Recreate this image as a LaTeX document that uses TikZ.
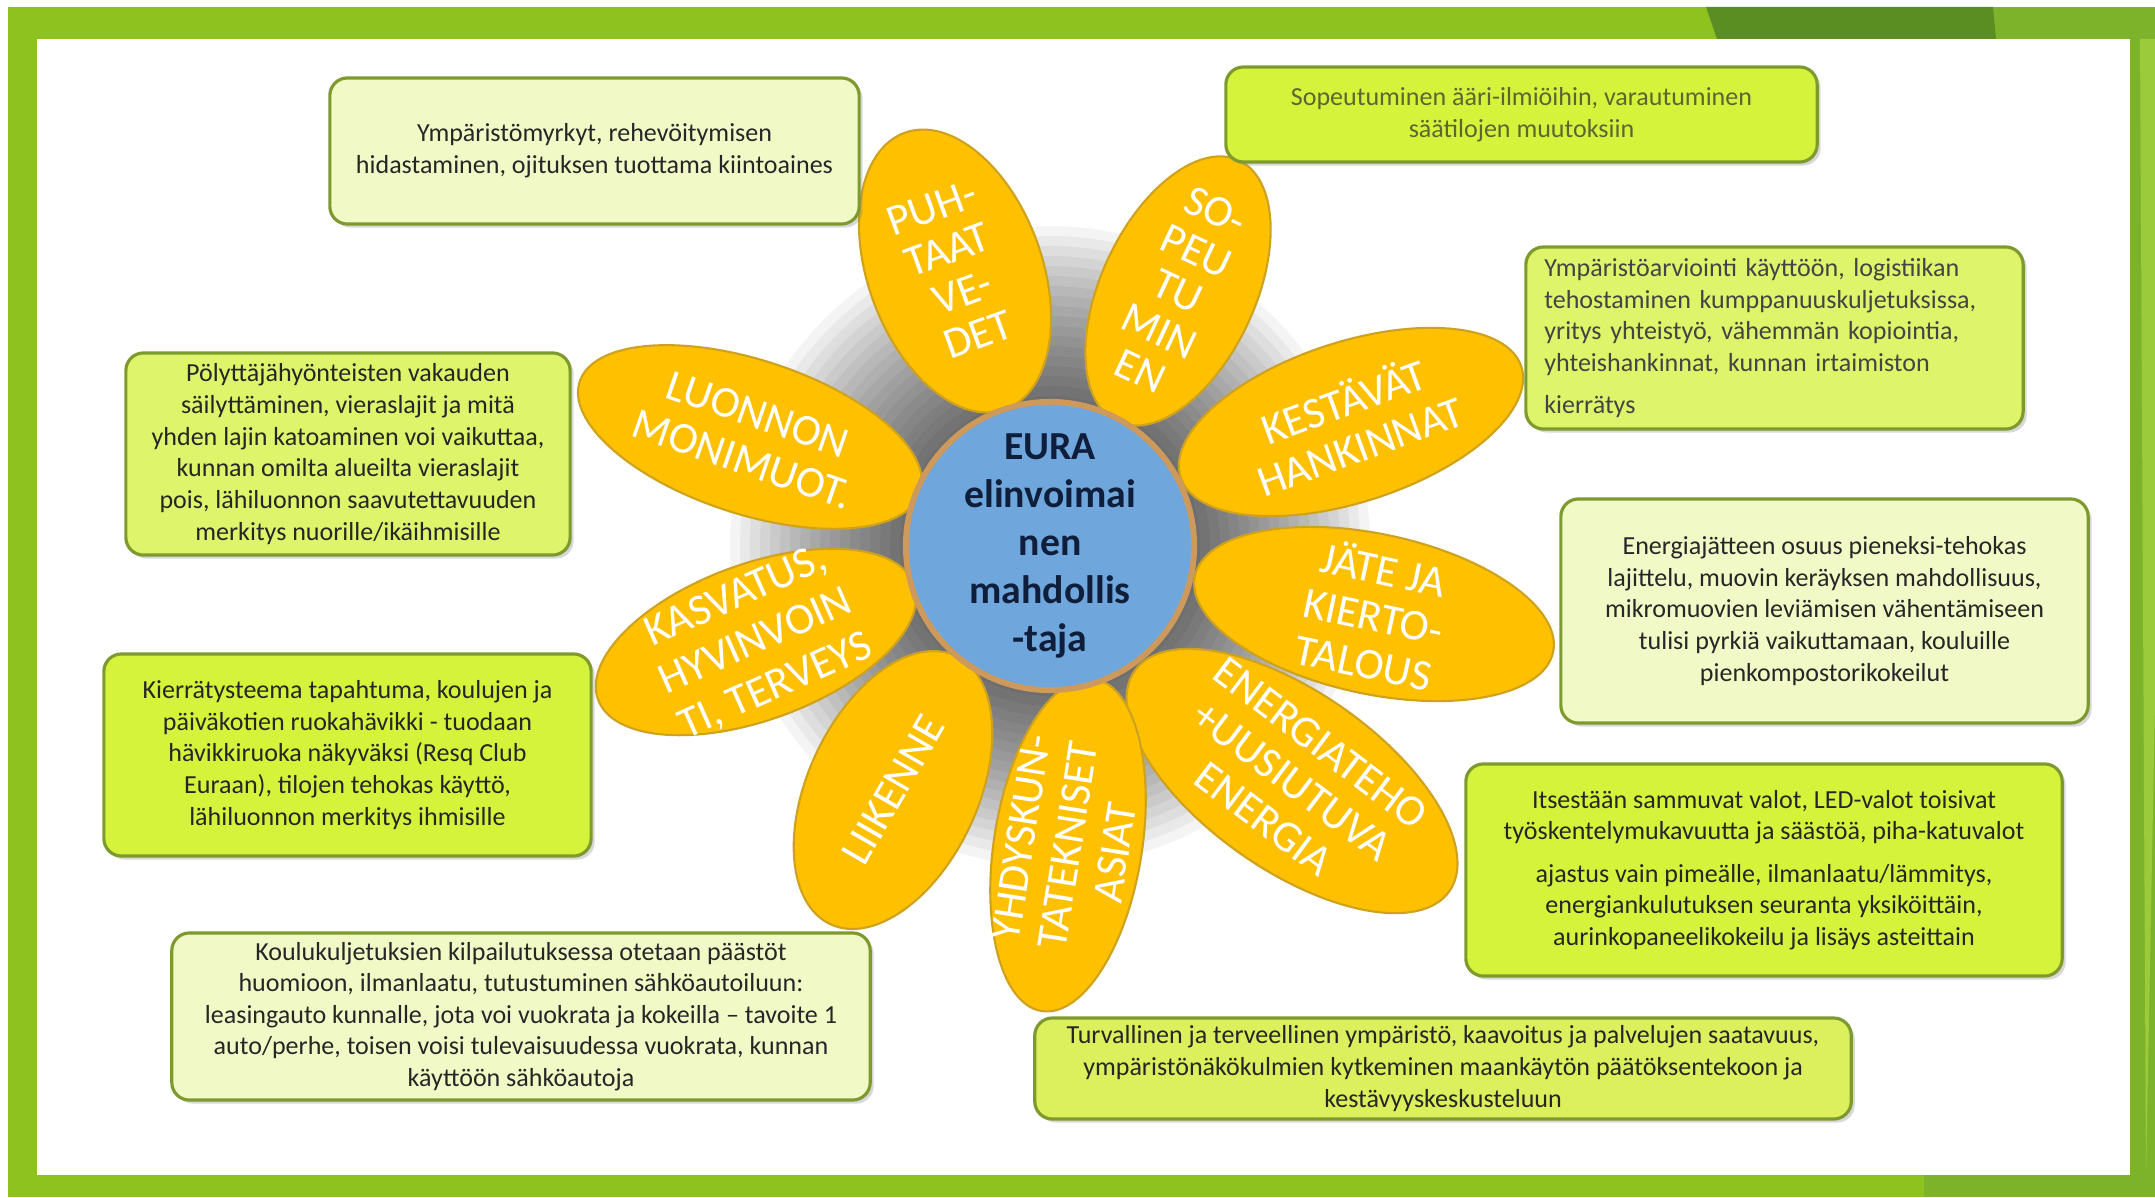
\documentclass[tikz,border=0pt]{standalone}
\usepackage{fontspec}
\setmainfont{Carlito}
\usetikzlibrary{shapes.geometric,shadows}
\definecolor{frameG}{HTML}{8DC21F}
\definecolor{frameD}{HTML}{5A8E22}
\definecolor{frameM}{HTML}{7DB32B}
\definecolor{frameL}{HTML}{9BCB3A}
\definecolor{petal}{HTML}{FFC000}
\definecolor{petalD}{HTML}{CFA21E}
\definecolor{ring}{HTML}{CD9A5B}
\definecolor{hub}{HTML}{6FA6DC}
\definecolor{hubtxt}{HTML}{0F1E3A}
\definecolor{boxL}{HTML}{F1FAC6}
\definecolor{boxB}{HTML}{D6F33C}
\definecolor{boxM}{HTML}{DEF46A}
\definecolor{boxN}{HTML}{DCEF5C}
\definecolor{boxE}{HTML}{7E9A2E}
\definecolor{txt}{HTML}{262626}
\definecolor{txtG}{HTML}{5C6630}
\definecolor{txtH}{HTML}{444444}
\tikzset{
  petalshape/.style={ellipse, fill=petal, draw=petalD, line width=0.6pt, inner sep=0pt},
  petaltext/.style={text=white, font=\fontsize{12.5}{13.5}\selectfont, align=center, inner sep=0pt},
  infobox/.style={rounded corners=5pt, draw=boxE, line width=0.9pt, inner sep=0pt, align=center,
    text=txt, font=\fontsize{7.4}{9}\selectfont,
    drop shadow={shadow xshift=1pt, shadow yshift=-1pt, opacity=0.3}},
  glowlayer/.style={fill=black, fill opacity=0.045},
}
\begin{document}
\begin{tikzpicture}[x=0.01cm,y=-0.01cm]
\useasboundingbox (0,0) rectangle (2155,1197);
% frame
\fill[white] (0,0) rectangle (2155,1197);
\fill[frameG] (8,7) rectangle (2155,1197);
\fill[frameM] (1990,7) rectangle (2155,39);
\fill[frameM] (2130,7) rectangle (2155,1197);
\fill[frameL] (2140,39) -- (2155,39) -- (2155,700) -- (2146,1175) -- cycle;
\fill[frameM] (1924,1175) rectangle (2155,1197);
\fill[frameD] (1706,7) -- (1993,7) -- (1996,39) -- (1717,39) -- cycle;
\fill[white] (37,39) rectangle (2130,1175);
% glow
\foreach \r in {150,160,...,320} { \fill[glowlayer] (1050,546) circle (\r); }
% petals
\node[petalshape, minimum width=2.94cm, minimum height=1.74cm, rotate=110] (p1) at (955,271) {};
\node[petalshape, minimum width=2.88cm, minimum height=1.54cm, rotate=65] (p2) at (1178,291) {};
\node[petalshape, minimum width=3.58cm, minimum height=1.60cm, rotate=18] (p3) at (1351,422) {};
\node[petalshape, minimum width=3.66cm, minimum height=1.60cm, rotate=-12] (p4) at (1374,614) {};
\node[petalshape, minimum width=3.84cm, minimum height=1.78cm, rotate=-35] (p5) at (1292,781) {};
\node[petalshape, minimum width=3.36cm, minimum height=1.48cm, rotate=81] (p6) at (1068,845) {};
\node[petalshape, minimum width=2.96cm, minimum height=1.70cm, rotate=65] (p7) at (893,790) {};
\node[petalshape, minimum width=3.36cm, minimum height=1.56cm, rotate=20] (p8) at (756,642) {};
\node[petalshape, minimum width=3.58cm, minimum height=1.54cm, rotate=-18] (p9) at (750,437) {};
\node[petaltext, font=\fontsize{12.5}{12.8}\selectfont, rotate=20] (t1) at (p1.center) {PUH-\\TAAT\\VE-\\DET};
\node[petaltext, font=\fontsize{12.5}{12.6}\selectfont, rotate=-25] (t2) at (p2.center) {SO-\\PEU\\TU\\MIN\\EN};
\node[petaltext, rotate=20] (t3) at (p3.center) {KESTÄVÄT\\HANKINNAT};
\node[petaltext, rotate=-12] (t4) at (p4.center) {JÄTE JA\\KIERTO-\\TALOUS};
\node[petaltext, rotate=-37] (t5) at (p5.center) {ENERGIATEHO\\+UUSIUTUVA\\ENERGIA};
\node[petaltext, rotate=81] (t6) at (p6.center) {YHDYSKUN-\\TATEKNISET\\ASIAT};
\node[petaltext, rotate=60] (t7) at (p7.center) {LIIKENNE};
\node[petaltext, font=\fontsize{12.5}{14}\selectfont, rotate=24] (t8) at (p8.center) {KASVATUS,\\HYVINVOIN\\TI, TERVEYS};
\node[petaltext, rotate=-19] (t9) at (p9.center) {LUONNON\\MONIMUOT.};
% hub
\node[circle, fill=ring, minimum size=2.94cm, inner sep=0pt] (ringc) at (1050,546) {};
\node[circle, fill=hub, minimum size=2.60cm, inner sep=0pt, text=hubtxt, align=center,
  font=\bfseries\fontsize{11.3}{13.6}\selectfont] (hubc) at (ringc.center) {EURA\\elinvoimai\\nen\\mahdollis\\-taja};
% boxes
\node[infobox, fill=boxL, minimum width=5.29cm, minimum height=1.46cm] (b1) at (594.5,151)
  {Ympäristömyrkyt, rehevöitymisen\\hidastaminen, ojituksen tuottama kiintoaines};
\node[infobox, fill=boxB, text=txtG, minimum width=5.91cm, minimum height=0.95cm] (b2) at (1521.5,114.5)
  {Sopeutuminen ääri-ilmiöihin, varautuminen\\säätilojen muutoksiin};
\node[infobox, fill=boxM, text=txtH, minimum width=4.97cm, minimum height=1.82cm, text width=4.6cm, align=left] (b3) at (1774.5,338)
  {Ympäristöarviointi käyttöön, logistiikan\\tehostaminen kumppanuuskuljetuksissa,\\yritys yhteistyö, vähemmän kopiointia,\\yhteishankinnat, kunnan irtaimiston\\[3pt]kierrätys};
\node[infobox, fill=boxL, minimum width=5.27cm, minimum height=2.24cm] (b4) at (1824.5,611)
  {Energiajätteen osuus pieneksi-tehokas\\lajittelu, muovin keräyksen mahdollisuus,\\mikromuovien leviämisen vähentämiseen\\tulisi pyrkiä vaikuttamaan, kouluille\\pienkompostorikokeilut};
\node[infobox, fill=boxB, minimum width=5.96cm, minimum height=2.12cm] (b5) at (1764,870)
  {Itsestään sammuvat valot, LED-valot toisivat\\työskentelymukavuutta ja säästöä, piha-katuvalot\\[3pt]ajastus vain pimeälle, ilmanlaatu/lämmitys,\\energiankulutuksen seuranta yksiköittäin,\\aurinkopaneelikokeilu ja lisäys asteittain};
\node[infobox, fill=boxN, minimum width=8.16cm, minimum height=1.01cm] (b6) at (1443,1068.5)
  {Turvallinen ja terveellinen ympäristö, kaavoitus ja palvelujen saatavuus,\\ympäristönäkökulmien kytkeminen maankäytön päätöksentekoon ja\\kestävyyskeskusteluun};
\node[infobox, fill=boxL, minimum width=6.98cm, minimum height=1.67cm] (b7) at (521,1016.5)
  {Koulukuljetuksien kilpailutuksessa otetaan päästöt\\huomioon, ilmanlaatu, tutustuminen sähköautoiluun:\\leasingauto kunnalle, jota voi vuokrata ja kokeilla – tavoite 1\\auto/perhe, toisen voisi tulevaisuudessa vuokrata, kunnan\\käyttöön sähköautoja};
\node[infobox, fill=boxB, minimum width=4.87cm, minimum height=2.02cm] (b8) at (347.5,755)
  {Kierrätysteema tapahtuma, koulujen ja\\päiväkotien ruokahävikki - tuodaan\\hävikkiruoka näkyväksi (Resq Club\\Euraan), tilojen tehokas käyttö,\\lähiluonnon merkitys ihmisille};
\node[infobox, fill=boxM, minimum width=4.44cm, minimum height=2.02cm] (b9) at (348,454)
  {Pölyttäjähyönteisten vakauden\\säilyttäminen, vieraslajit ja mitä\\yhden lajin katoaminen voi vaikuttaa,\\kunnan omilta alueilta vieraslajit\\pois, lähiluonnon saavutettavuuden\\merkitys nuorille/ikäihmisille};
\end{tikzpicture}
\end{document}
